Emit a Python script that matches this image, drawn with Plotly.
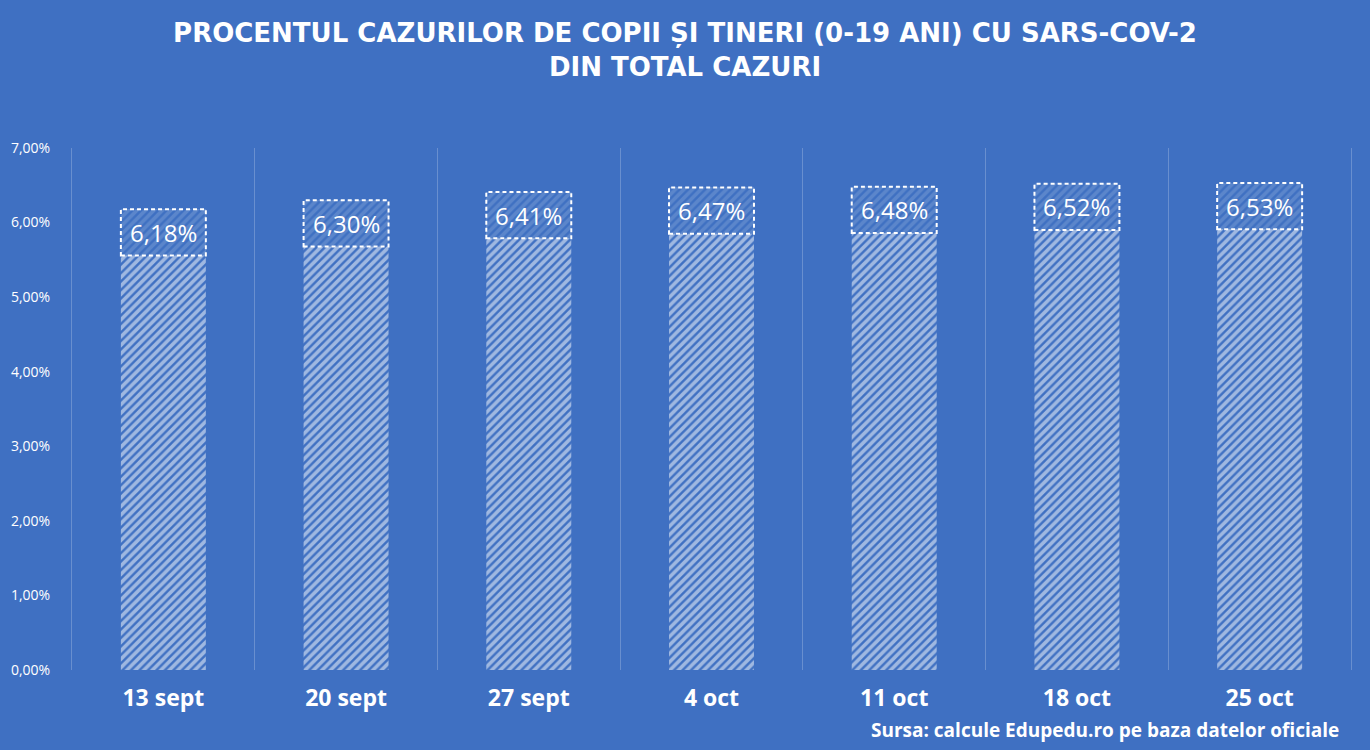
import plotly.graph_objects as go

categories = ["13 sept", "20 sept", "27 sept", "4 oct", "11 oct", "18 oct", "25 oct"]
values = [6.18, 6.30, 6.41, 6.47, 6.48, 6.52, 6.53]
labels = ["6,18%", "6,30%", "6,41%", "6,47%", "6,48%", "6,52%", "6,53%"]
y_ticks = [0, 1, 2, 3, 4, 5, 6, 7]
y_ticktext = ["0,00%", "1,00%", "2,00%", "3,00%", "4,00%", "5,00%", "6,00%", "7,00%"]

BG = "#3F70C2"
GRID = "rgba(255,255,255,0.22)"
BAR_W = 0.465
BOX_H = 0.62

fig = go.Figure()
fig.add_trace(go.Bar(
    x=categories, y=values, width=BAR_W,
    marker=dict(color=BG, line=dict(width=0),
                pattern=dict(shape="/", fgcolor="white", bgcolor=BG, size=6, solidity=0.6)),
    hoverinfo="skip",
))

for i, (v, t) in enumerate(zip(values, labels)):
    fig.add_shape(type="rect", xref="x", yref="y",
                  x0=i - BAR_W / 2, x1=i + BAR_W / 2, y0=v - BOX_H, y1=v,
                  fillcolor="rgba(63,112,194,0.7)",
                  line=dict(color="white", width=2, dash="4px,3px"), layer="above")
    fig.add_annotation(x=i, y=v - BOX_H / 2, text=t, showarrow=False, xref="x", yref="y",
                       font=dict(family="Open Sans", size=24, color="white"))

fig.add_annotation(text="Sursa: calcule Edupedu.ro pe baza datelor oficiale",
                   xref="paper", yref="paper", x=1.0, y=0, xanchor="right", yanchor="top",
                   yshift=-45, xshift=-10, showarrow=False,
                   font=dict(family="Open Sans", size=19, color="white", weight="bold"))

fig.update_layout(
    width=1370, height=750,
    paper_bgcolor=BG, plot_bgcolor=BG,
    margin=dict(l=72, r=19, t=148, b=80),
    showlegend=False,
    title=dict(text="PROCENTUL CAZURILOR DE COPII ȘI TINERI (0-19 ANI) CU SARS-COV-2<br>DIN TOTAL CAZURI",
               x=0.5, xanchor="center", y=0.944, yanchor="top",
               font=dict(family="DejaVu Sans", size=26, color="white", weight="bold")),
    xaxis=dict(type="category", range=[-0.5, len(categories) - 0.5],
               tickson="boundaries", showgrid=True, gridcolor=GRID, gridwidth=1,
               ticks="", zeroline=False, showline=False, ticklabelstandoff=12,
               tickfont=dict(family="Open Sans", size=23, color="white", weight="bold")),
    yaxis=dict(range=[0, 7], tickvals=y_ticks, ticktext=y_ticktext, showgrid=False,
               zeroline=False, showline=True, linecolor=GRID, linewidth=1, mirror=True,
               ticks="", ticklabelstandoff=18,
               tickfont=dict(family="Open Sans", size=14, color="white")),
)

fig.write_html("out.html", config={"displayModeBar": False},
               post_script="document.body.style.margin='0';document.body.style.overflow='hidden';")
